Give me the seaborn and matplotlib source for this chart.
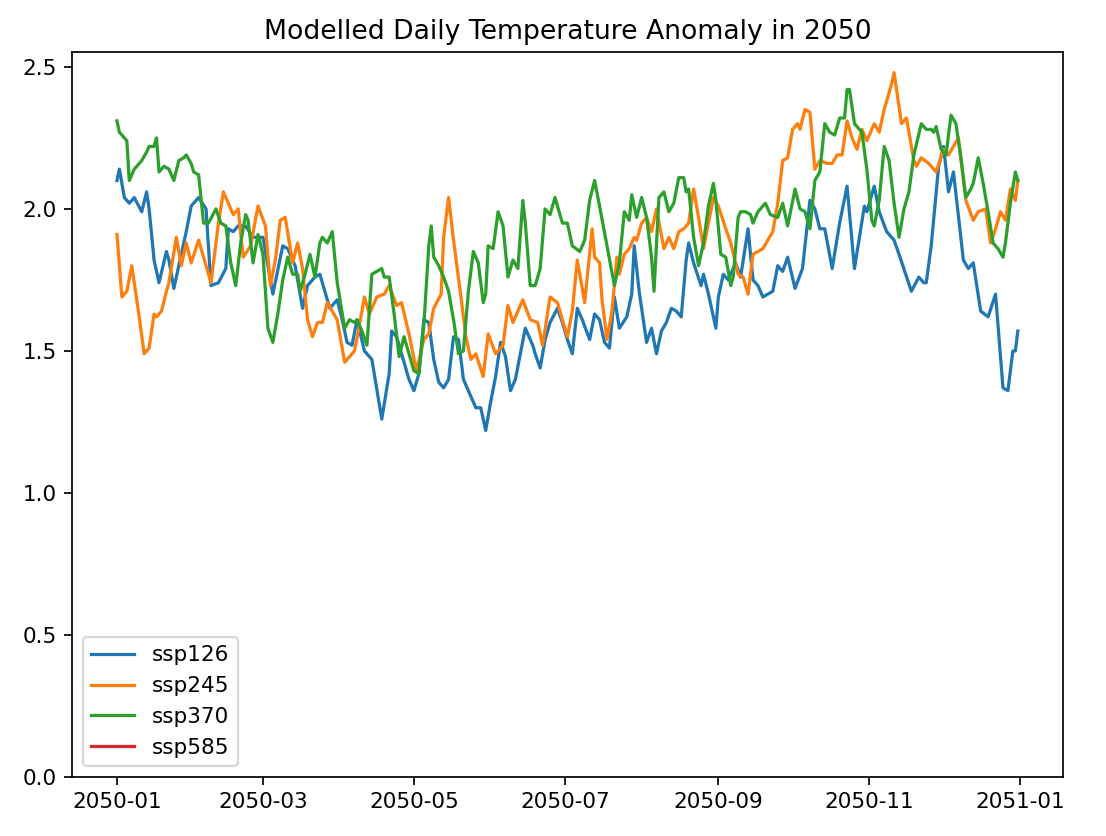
import pandas as pd
import seaborn as sns
import matplotlib.pyplot as plt
import matplotlib.dates as mdates

# day offsets from 2050-01-01 and anomaly values
ssp126_days = [0, 1, 3, 5, 7, 10, 12, 13, 15, 17,
               20, 21, 23, 28, 30, 33, 36, 38, 41, 44,
               45, 47, 49, 52, 55, 59, 63, 67, 69, 72,
               75, 77, 80, 82, 84, 86, 89, 91, 93, 95,
               97, 100, 103, 107, 110, 111, 113, 115, 118, 120,
               122, 124, 126, 128, 130, 132, 134, 136, 138, 140,
               142, 145, 147, 149, 151, 153, 155, 157, 159, 161,
               163, 165, 168, 169, 171, 173, 175, 178, 180, 182,
               184, 186, 188, 191, 193, 195, 197, 199, 201, 203,
               206, 208, 209, 211, 214, 216, 218, 220, 222, 224,
               226, 228, 230, 231, 233, 236, 237, 239, 242, 243,
               245, 247, 250, 252, 255, 257, 259, 261, 263, 265,
               267, 269, 271, 274, 277, 280, 282, 284, 286, 289,
               292, 295, 298, 302, 303, 306, 308, 311, 314, 316,
               321, 324, 326, 327, 329, 332, 334, 336, 338, 342,
               344, 346, 349, 352, 355, 358, 360, 362, 363, 364]
ssp126 = [2.10, 2.14, 2.04, 2.02, 2.04, 1.99, 2.06, 2.00, 1.82, 1.74,
          1.85, 1.82, 1.72, 1.92, 2.01, 2.04, 2.00, 1.73, 1.74, 1.79,
          1.93, 1.92, 1.94, 1.94, 1.90, 1.90, 1.70, 1.87, 1.86, 1.80,
          1.65, 1.73, 1.76, 1.77, 1.71, 1.65, 1.68, 1.61, 1.53, 1.52,
          1.61, 1.50, 1.47, 1.26, 1.42, 1.57, 1.55, 1.49, 1.40, 1.36,
          1.42, 1.61, 1.60, 1.47, 1.39, 1.37, 1.40, 1.55, 1.54, 1.40,
          1.36, 1.30, 1.30, 1.22, 1.32, 1.41, 1.53, 1.48, 1.36, 1.40,
          1.49, 1.58, 1.52, 1.49, 1.44, 1.54, 1.60, 1.65, 1.60, 1.54,
          1.49, 1.65, 1.61, 1.54, 1.63, 1.61, 1.53, 1.51, 1.69, 1.58,
          1.62, 1.70, 1.87, 1.71, 1.53, 1.58, 1.49, 1.57, 1.60, 1.65,
          1.64, 1.62, 1.82, 1.88, 1.81, 1.73, 1.77, 1.70, 1.58, 1.69,
          1.77, 1.75, 1.81, 1.76, 1.93, 1.75, 1.73, 1.69, 1.70, 1.71,
          1.80, 1.78, 1.83, 1.72, 1.79, 2.03, 2.00, 1.93, 1.93, 1.79,
          1.95, 2.08, 1.79, 2.01, 1.99, 2.08, 1.99, 1.92, 1.89, 1.84,
          1.71, 1.76, 1.74, 1.74, 1.87, 2.15, 2.22, 2.06, 2.13, 1.82,
          1.79, 1.81, 1.64, 1.62, 1.70, 1.37, 1.36, 1.50, 1.50, 1.57]

ssp245_days = [0, 2, 4, 6, 7, 9, 11, 13, 15, 16,
               18, 20, 21, 24, 26, 28, 30, 33, 35, 38,
               41, 43, 47, 49, 51, 54, 57, 60, 62, 64,
               66, 68, 71, 73, 75, 77, 79, 81, 83, 85,
               87, 89, 92, 94, 96, 99, 100, 102, 105, 108,
               110, 113, 115, 118, 121, 124, 126, 128, 131, 132,
               134, 136, 139, 141, 143, 145, 148, 150, 153, 156,
               158, 160, 164, 167, 170, 172, 175, 178, 182, 184,
               186, 189, 192, 193, 195, 196, 198, 200, 202, 203,
               205, 207, 209, 210, 212, 214, 216, 218, 221, 223,
               225, 227, 229, 231, 233, 235, 237, 239, 241, 243,
               246, 248, 251, 253, 255, 257, 259, 261, 263, 265,
               267, 269, 271, 273, 275, 276, 278, 280, 282, 284,
               287, 289, 291, 293, 295, 297, 299, 301, 303, 306,
               308, 310, 313, 314, 317, 319, 322, 323, 325, 328,
               331, 334, 336, 338, 340, 343, 346, 348, 351, 353,
               355, 357, 359, 361, 363, 364]
ssp245 = [1.91, 1.69, 1.71, 1.80, 1.74, 1.62, 1.49, 1.51, 1.63, 1.62,
          1.64, 1.71, 1.74, 1.90, 1.80, 1.88, 1.81, 1.89, 1.83, 1.74,
          1.95, 2.06, 1.98, 2.00, 1.83, 1.87, 2.01, 1.94, 1.73, 1.82,
          1.96, 1.97, 1.81, 1.88, 1.79, 1.61, 1.55, 1.60, 1.60, 1.67,
          1.64, 1.61, 1.46, 1.48, 1.50, 1.64, 1.69, 1.63, 1.69, 1.70,
          1.73, 1.66, 1.67, 1.56, 1.43, 1.54, 1.56, 1.65, 1.70, 1.90,
          2.04, 1.89, 1.69, 1.55, 1.47, 1.49, 1.41, 1.56, 1.49, 1.52,
          1.66, 1.60, 1.68, 1.61, 1.60, 1.52, 1.69, 1.67, 1.55, 1.64,
          1.82, 1.67, 1.93, 1.83, 1.81, 1.68, 1.54, 1.64, 1.83, 1.77,
          1.84, 1.86, 1.90, 1.89, 1.95, 1.97, 1.92, 2.00, 1.86, 1.90,
          1.86, 1.92, 1.93, 1.95, 2.07, 1.97, 1.86, 1.95, 2.04, 2.01,
          1.93, 1.88, 1.77, 1.76, 1.70, 1.84, 1.85, 1.86, 1.89, 1.92,
          2.02, 2.17, 2.18, 2.28, 2.30, 2.28, 2.35, 2.34, 2.14, 2.17,
          2.16, 2.16, 2.19, 2.19, 2.31, 2.25, 2.21, 2.28, 2.24, 2.30,
          2.27, 2.35, 2.44, 2.48, 2.30, 2.32, 2.17, 2.15, 2.18, 2.16,
          2.13, 2.21, 2.19, 2.22, 2.25, 2.03, 1.96, 1.99, 2.00, 1.88,
          1.93, 1.99, 1.96, 2.07, 2.03, 2.10]

ssp370_days = [0, 1, 2, 4, 5, 7, 9, 10, 12, 13,
               15, 16, 17, 19, 21, 23, 25, 27, 28, 30,
               31, 33, 35, 37, 40, 42, 44, 46, 48, 50,
               52, 53, 55, 57, 59, 61, 63, 65, 67, 69,
               71, 73, 74, 76, 78, 80, 82, 83, 85, 87,
               89, 92, 94, 96, 97, 99, 101, 103, 107, 108,
               110, 112, 114, 116, 118, 120, 122, 124, 126, 127,
               128, 130, 132, 134, 136, 138, 140, 142, 144, 146,
               148, 149, 150, 152, 154, 156, 158, 160, 162, 164,
               165, 167, 169, 171, 173, 175, 177, 180, 182, 184,
               187, 189, 191, 193, 195, 198, 201, 203, 205, 207,
               208, 210, 212, 214, 216, 217, 219, 221, 223, 225,
               227, 229, 230, 231, 233, 235, 237, 239, 241, 242,
               244, 246, 248, 249, 251, 252, 254, 256, 257, 259,
               262, 264, 267, 269, 271, 274, 276, 278, 280, 282,
               284, 286, 288, 290, 292, 294, 295, 296, 298, 300,
               301, 303, 305, 306, 308, 310, 312, 314, 316, 318,
               320, 322, 325, 327, 329, 330, 331, 333, 335, 337,
               339, 341, 343, 345, 346, 348, 350, 352, 354, 356,
               358, 359, 361, 363, 364]
ssp370 = [2.31, 2.27, 2.26, 2.24, 2.10, 2.14, 2.16, 2.17, 2.20, 2.22,
          2.22, 2.25, 2.13, 2.15, 2.14, 2.10, 2.17, 2.18, 2.19, 2.16,
          2.13, 2.12, 1.95, 1.95, 2.00, 1.95, 1.94, 1.81, 1.73, 1.88,
          1.98, 1.96, 1.81, 1.91, 1.84, 1.58, 1.53, 1.63, 1.75, 1.83,
          1.77, 1.77, 1.71, 1.77, 1.84, 1.76, 1.88, 1.90, 1.88, 1.92,
          1.74, 1.58, 1.61, 1.60, 1.61, 1.57, 1.52, 1.77, 1.79, 1.76,
          1.76, 1.63, 1.48, 1.55, 1.49, 1.43, 1.42, 1.59, 1.87, 1.94,
          1.83, 1.80, 1.76, 1.71, 1.61, 1.49, 1.50, 1.71, 1.85, 1.81,
          1.67, 1.70, 1.87, 1.86, 1.99, 1.94, 1.76, 1.82, 1.79, 2.03,
          1.95, 1.73, 1.73, 1.79, 2.00, 1.98, 2.04, 1.95, 1.95, 1.87,
          1.85, 1.89, 2.03, 2.10, 2.01, 1.87, 1.73, 1.81, 1.99, 1.96,
          2.05, 1.97, 2.04, 1.97, 1.83, 1.71, 2.04, 2.06, 1.99, 2.02,
          2.11, 2.11, 2.06, 2.07, 1.90, 1.80, 1.88, 2.01, 2.09, 2.03,
          1.84, 1.83, 1.73, 1.76, 1.97, 1.99, 1.99, 1.98, 1.95, 1.99,
          2.02, 1.98, 1.97, 2.02, 1.94, 2.07, 2.00, 1.99, 1.93, 2.10,
          2.13, 2.30, 2.27, 2.26, 2.32, 2.32, 2.42, 2.42, 2.30, 2.28,
          2.27, 2.14, 1.96, 1.94, 2.03, 2.22, 2.17, 2.02, 1.90, 2.00,
          2.06, 2.19, 2.30, 2.28, 2.28, 2.27, 2.29, 2.21, 2.19, 2.33,
          2.30, 2.18, 2.04, 2.07, 2.09, 2.18, 2.09, 1.99, 1.88, 1.86,
          1.83, 1.88, 2.02, 2.13, 2.10]

# ssp585 has no values in the picture, only a legend entry
ssp585_days = []
ssp585 = []

scenarios = ['ssp126', 'ssp245', 'ssp370', 'ssp585']
series = {
    'ssp126': (ssp126_days, ssp126),
    'ssp245': (ssp245_days, ssp245),
    'ssp370': (ssp370_days, ssp370),
    'ssp585': (ssp585_days, ssp585),
}

start = pd.Timestamp('2050-01-01')
frames = []
for name in scenarios:
    days, vals = series[name]
    frames.append(pd.DataFrame({
        'date': start + pd.to_timedelta(days, unit='D'),
        'anomaly': pd.Series(vals, dtype=float),
        'scenario': name,
    }))
df = pd.concat(frames, ignore_index=True)

DPI = 155
fig = plt.figure(figsize=(1106 / DPI, 836 / DPI), dpi=DPI)
ax = fig.add_axes([0.065, 0.0706, 0.896, 0.8674])

sns.lineplot(data=df, x='date', y='anomaly', hue='scenario',
             hue_order=scenarios, palette=['C0', 'C1', 'C2', 'C3'],
             estimator=None, linewidth=1.5, ax=ax)

ax.xaxis.set_major_locator(mdates.MonthLocator(bymonth=[1, 3, 5, 7, 9, 11]))
ax.xaxis.set_major_formatter(mdates.DateFormatter('%Y-%m'))
ax.set_xlim(start - pd.Timedelta(days=18.2), start + pd.Timedelta(days=382.2))
ax.set_ylim(0, 2.553)
ax.set_xlabel('')
ax.set_ylabel('')
ax.set_title('Modelled Daily Temperature Anomaly in 2050', fontsize=12.4)
sns.move_legend(ax, 'lower left', title=None)

fig.savefig('out.png', dpi=DPI)
